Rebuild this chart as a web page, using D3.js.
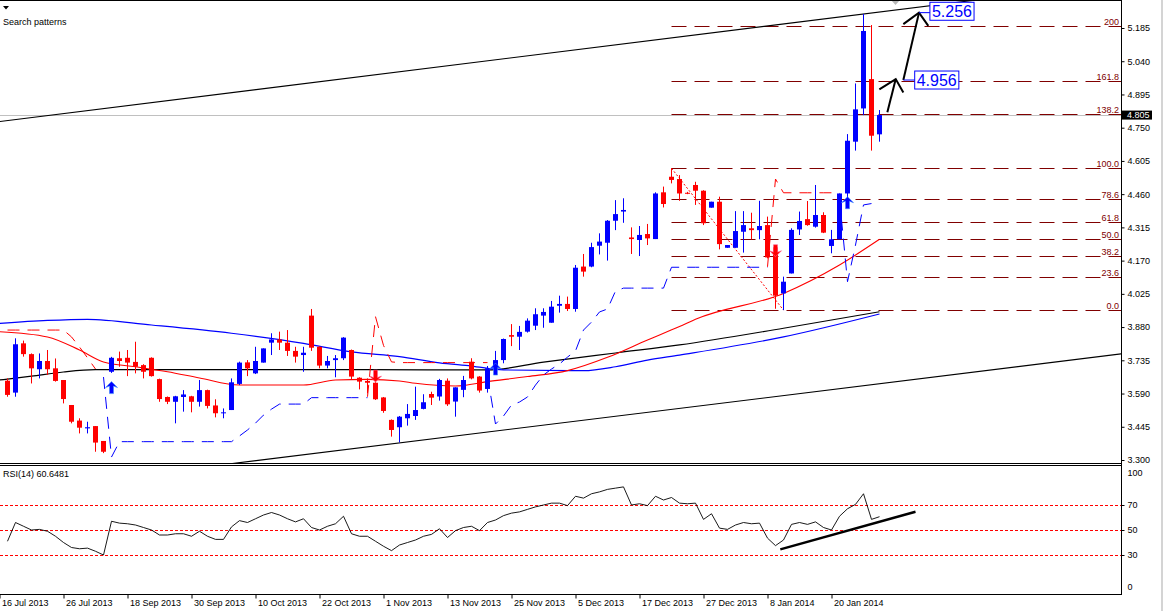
<!DOCTYPE html>
<html><head><meta charset="utf-8">
<script src="https://cdn.jsdelivr.net/npm/d3@7/dist/d3.min.js"></script>
<style>
body{margin:0;background:#fff}
svg{display:block}
text{font-family:"Liberation Sans",Arial,sans-serif;font-size:9px}
</style></head>
<body><svg id="c" width="1171" height="611"></svg>
<script>
// ---------- DATA ----------
const openP  = [3.646,3.594,3.809,3.762,3.696,3.732,3.700,3.649,3.540,3.472,3.438,3.448,3.383,3.685,3.744,3.746,3.728,3.714,3.746,3.653,3.575,3.554,3.575,3.578,3.554,3.605,3.538,3.504,3.518,3.632,3.726,3.678,3.725,3.812,3.826,3.812,3.776,3.758,3.930,3.794,3.712,3.736,3.744,3.780,3.659,3.645,3.637,3.573,3.475,3.443,3.482,3.492,3.523,3.588,3.577,3.646,3.555,3.606,3.729,3.664,3.610,3.693,3.736,3.845,3.838,3.860,3.886,3.930,3.899,3.973,3.981,3.959,4.144,4.144,4.235,4.248,4.344,4.384,4.271,4.260,4.286,4.264,4.468,4.536,4.526,4.466,4.500,4.475,4.401,4.427,4.226,4.226,4.296,4.311,4.303,4.325,4.228,4.027,4.114,4.306,4.351,4.318,4.369,4.234,4.263,4.463,4.689,4.834,4.962,4.721];
const highP  = [3.656,3.831,3.821,3.765,3.765,3.780,3.743,3.649,3.540,3.482,3.467,3.448,3.383,3.750,3.773,3.780,3.816,3.718,3.748,3.655,3.577,3.580,3.605,3.580,3.649,3.607,3.565,3.525,3.656,3.729,3.736,3.794,3.787,3.853,3.860,3.867,3.794,3.794,3.959,3.796,3.754,3.758,3.836,3.782,3.661,3.656,3.639,3.575,3.477,3.492,3.544,3.620,3.587,3.598,3.654,3.656,3.617,3.667,3.744,3.666,3.710,3.776,3.830,3.893,3.885,3.918,3.962,3.962,3.994,4.017,4.013,4.151,4.199,4.248,4.289,4.347,4.434,4.442,4.315,4.321,4.330,4.468,4.493,4.573,4.543,4.470,4.514,4.477,4.427,4.449,4.238,4.386,4.386,4.379,4.431,4.362,4.232,4.100,4.311,4.384,4.430,4.500,4.381,4.304,4.463,4.722,4.943,5.246,5.198,4.827];
const lowP   = [3.576,3.576,3.751,3.634,3.656,3.671,3.642,3.547,3.460,3.416,3.416,3.336,3.330,3.680,3.707,3.666,3.678,3.656,3.664,3.554,3.544,3.460,3.511,3.508,3.533,3.525,3.486,3.482,3.518,3.627,3.666,3.675,3.725,3.758,3.780,3.754,3.725,3.685,3.776,3.700,3.700,3.661,3.736,3.649,3.608,3.591,3.562,3.506,3.402,3.377,3.450,3.475,3.521,3.540,3.559,3.536,3.489,3.574,3.652,3.594,3.594,3.675,3.722,3.797,3.780,3.856,3.867,3.877,3.899,3.943,3.950,3.947,4.100,4.141,4.197,4.170,4.303,4.335,4.199,4.190,4.238,4.264,4.402,4.507,4.431,4.460,4.413,4.325,4.401,4.219,4.226,4.226,4.205,4.263,4.263,4.180,3.960,3.954,4.114,4.282,4.322,4.314,4.290,4.202,4.263,4.440,4.650,4.805,4.650,4.689];
const closeP = [3.584,3.805,3.762,3.700,3.732,3.696,3.645,3.566,3.467,3.441,3.443,3.376,3.336,3.746,3.732,3.725,3.707,3.685,3.666,3.566,3.554,3.578,3.586,3.554,3.605,3.536,3.504,3.508,3.639,3.725,3.700,3.732,3.787,3.826,3.812,3.776,3.751,3.768,3.790,3.712,3.732,3.744,3.834,3.664,3.642,3.637,3.565,3.514,3.431,3.489,3.501,3.518,3.552,3.572,3.649,3.543,3.617,3.649,3.656,3.603,3.700,3.736,3.828,3.838,3.859,3.908,3.936,3.946,3.969,3.981,3.959,4.139,4.122,4.229,4.253,4.344,4.373,4.391,4.264,4.282,4.267,4.463,4.417,4.522,4.463,4.465,4.475,4.333,4.427,4.242,4.238,4.299,4.325,4.303,4.321,4.184,4.017,4.078,4.304,4.343,4.325,4.369,4.292,4.263,4.463,4.693,4.830,5.172,4.715,4.805];

const rsiValues = [41,56,53,50,50.5,49,45,40,36,35,35.5,33,30,57,55.5,55,54,52,50,46,46,47,47,45,49,45,42.5,42.5,52.5,57.5,56,59,62,64,62,59,56.5,59,52,50,53,55,61,47,45,45,41,37,33.5,38,40,42,45,46.5,51,44,49.5,52,53,49.5,56,58,61.5,63.5,64.5,66.5,68.5,70,71.5,71.5,69.5,77,75.5,79,80.5,82.5,83.5,84.5,70,71,69.5,77,74,76,71.5,71,71.5,58.5,63,51.5,50.5,54,56,55,55.5,43.5,37.5,42,54.5,56,54.5,56.5,52,50,61,67,70.5,79,58.5,60.6481];

// moving averages: [bar, price] knots
const maBlack = [[-1,3.649],[3,3.666],[7,3.684],[11,3.694],[30,3.694],[45,3.694],[60,3.693],[67,3.727],[76,3.767],[84,3.802],[97,3.875],[109,3.947]];
const maBlue  = [[-1,3.896],[5,3.909],[10,3.914],[18,3.889],[28,3.853],[37,3.809],[43,3.772],[49,3.751],[54,3.724],[58,3.710],[62,3.693],[72,3.690],[76,3.707],[80,3.736],[84,3.758],[97,3.837],[109,3.937]];
const maRed   = [[-1,3.860],[5,3.837],[9,3.780],[12,3.728],[16,3.707],[20,3.685],[24,3.658],[29,3.627],[37,3.627],[41,3.649],[45,3.652],[49,3.645],[51,3.635],[56,3.623],[60,3.642],[65,3.664],[70,3.690],[75,3.748],[80,3.824],[84,3.882],[86,3.914],[97,4.027],[104,4.151],[109,4.263]];

// trailing-stop indicator buffers (null = empty)
const N = 110;
const trailUp = [null,null,null,null,null,null,null,null,null,null,null,null,3.662,3.313,3.380,3.380,3.380,3.380,3.380,3.380,3.380,3.380,3.380,3.380,3.380,3.380,3.380,3.380,3.380,3.405,3.431,3.461,3.496,3.522,3.544,3.544,3.544,3.544,3.572,3.572,3.572,3.572,3.572,3.572,3.572,3.572,null,null,null,null,null,null,null,null,null,null,null,null,null,null,3.666,3.457,3.492,3.540,3.553,3.575,3.627,3.671,3.697,3.719,3.749,3.776,3.867,3.902,3.946,3.959,4.037,4.050,4.050,4.050,4.050,4.050,4.050,4.141,4.141,4.141,4.141,4.141,4.141,4.141,4.141,4.141,4.141,4.141,4.141,4.141,null,null,null,null,null,null,null,null,4.440,4.078,4.238,4.413,4.419,null];
const trailDn = [3.867,3.867,3.867,3.867,3.867,3.867,3.867,3.867,3.837,3.793,3.746,3.697,null,null,null,null,null,null,null,null,null,null,null,null,null,null,null,null,null,null,null,null,null,null,null,null,null,null,null,null,null,null,null,null,null,3.576,3.925,3.800,3.728,3.725,3.725,3.725,3.725,3.725,3.725,3.725,3.725,3.725,3.725,3.725,3.725,null,null,null,null,null,null,null,null,null,null,null,null,null,null,null,null,null,null,null,null,null,null,null,null,null,null,null,null,null,null,null,null,null,null,4.143,4.526,4.466,4.466,4.466,4.466,4.466,4.466,4.466,4.466,null,null,null,null,null];

const upArrows = [[13,3.642],[61,3.723],[105,4.449]];
const dnArrows = [[46,3.640],[96,4.187]];

// channel trendlines [bar, price]
const channelUpper = [[0,4.781],[107,5.246]];
const channelLower = [[28.44,3.286],[139.19,3.763]];

// Fibonacci retracement
const fibLevels = [0,23.6,38.2,50,61.8,78.6,100,138.2,161.8,200];
const fibNames  = ["0.0","23.6","38.2","50.0","61.8","78.6","100.0","138.2","161.8","200"];
const fibHighAnchor = [83,4.573];
const fibLowAnchor  = [97,3.954];

// drawn arrows (polylines) [bar, price]
const drawnArrow1 = [[109.98,4.817],[111.03,4.962]];
const drawnHead1  = [[108.98,4.917],[111.03,4.962],[111.98,4.904]];
const drawnArrow2 = [[111.98,4.958],[113.94,5.252]];
const drawnHead2  = [[111.98,5.202],[113.94,5.252],[115.1,5.194]];
const targetLabels = [{text:"4.956",bar:113.4,price:4.958,from:[111.98,4.958]},{text:"5.256",bar:115.3,price:5.258,from:[113.94,5.252]}];

const priceTicks = [3.300,3.445,3.590,3.735,3.880,4.025,4.170,4.315,4.460,4.605,4.750,4.895,5.040,5.185];
const bidPrice = 4.805;
const rsiTicks = [0,30,50,70,100];
const rsiLevels = [30,50,70];
const rsiTrend = [[96.6,34.5],[113.5,64.6]];
const dateTickBars = [-1,7,15,23,31,39,47,55,63,71,79,87,95,103];
const dateLabels = ["16 Jul 2013","26 Jul 2013","18 Sep 2013","30 Sep 2013","10 Oct 2013","22 Oct 2013","1 Nov 2013","13 Nov 2013","25 Nov 2013","5 Dec 2013","17 Dec 2013","27 Dec 2013","8 Jan 2014","20 Jan 2014"];

// ---------- LAYOUT ----------
const svg = d3.select("#c");
const RIGHT = 1121, MAIN_TOP = 1, MAIN_BOT = 463, RSI_TOP = 465.5, RSI_BOT = 594;
const x = d3.scaleLinear().domain([0,109]).range([7.5,879.5]);
const y = d3.scaleLinear().domain([3.300,5.185]).range([460,28]);
const yr = d3.scaleLinear().domain([0,100]).range([592.5,467.5]);

const defs = svg.append("defs");
defs.append("clipPath").attr("id","clipMain").append("rect").attr("x",0).attr("y",MAIN_TOP).attr("width",RIGHT).attr("height",MAIN_BOT-MAIN_TOP);
defs.append("clipPath").attr("id","clipRsi").append("rect").attr("x",0).attr("y",RSI_TOP).attr("width",RIGHT).attr("height",RSI_BOT-RSI_TOP);

// window frame line on the far right
svg.append("rect").attr("x",1161).attr("y",0).attr("width",2).attr("height",611).attr("fill","#d4d4d4");

const main = svg.append("g").attr("clip-path","url(#clipMain)");

// bid line
main.append("line").attr("x1",0).attr("x2",RIGHT).attr("y1",Math.round(y(bidPrice))+0.5).attr("y2",Math.round(y(bidPrice))+0.5).attr("stroke","#c0c0c0");

// Fibonacci
const fibP = l => fibLowAnchor[1] + (fibHighAnchor[1]-fibLowAnchor[1])*l/100;
fibLevels.forEach((l,k)=>{
  const yy = Math.round(y(fibP(l)))+0.5;
  main.append("line").attr("x1",x(fibHighAnchor[0])).attr("x2",RIGHT).attr("y1",yy).attr("y2",yy)
    .attr("stroke","#800000").attr("stroke-dasharray","15,8");
  main.append("text").attr("x",1119).attr("y",yy-2).attr("text-anchor","end").attr("fill","#800000").text(fibNames[k]);
});
main.append("line").attr("x1",x(fibHighAnchor[0])).attr("y1",y(fibHighAnchor[1])).attr("x2",x(fibLowAnchor[0])).attr("y2",y(fibLowAnchor[1]))
  .attr("stroke","#ff0000").attr("stroke-dasharray","2,2");

// channel lines
const lineXY = d3.line().x(d=>x(d[0])).y(d=>y(d[1]));
function extend(pts, b0, b1){
  const [p,q]=pts, s=(q[1]-p[1])/(q[0]-p[0]);
  return [[b0,p[1]+s*(b0-p[0])],[b1,p[1]+s*(b1-p[0])]];
}
main.append("path").attr("d",lineXY(extend(channelUpper,-2,140))).attr("fill","none").attr("stroke","#000").attr("stroke-width",1.1);
main.append("path").attr("d",lineXY(extend(channelLower,10,140))).attr("fill","none").attr("stroke","#000").attr("stroke-width",1.1);

// moving averages
const maLine = d3.line().x(d=>x(d[0])).y(d=>y(d[1])).curve(d3.curveMonotoneX);
main.append("path").attr("d",maLine(maBlack)).attr("fill","none").attr("stroke","#000").attr("stroke-width",1.2);
main.append("path").attr("d",maLine(maBlue)).attr("fill","none").attr("stroke","#0000ff").attr("stroke-width",1.2);
main.append("path").attr("d",maLine(maRed)).attr("fill","none").attr("stroke","#ff0000").attr("stroke-width",1.1);

// trailing stop
const trailLine = d3.line().defined(d=>d[1]!=null).x(d=>x(d[0])).y(d=>y(d[1]));
main.append("path").attr("d",trailLine(trailUp.map((v,i)=>[i,v]))).attr("fill","none").attr("stroke","#0000ff").attr("stroke-dasharray","12,8");
main.append("path").attr("d",trailLine(trailDn.map((v,i)=>[i,v]))).attr("fill","none").attr("stroke","#ff0000").attr("stroke-dasharray","12,8");

// candles
const bars = d3.range(N);
const cg = main.append("g");
bars.forEach(i=>{
  const up = closeP[i] >= openP[i];
  const col = up ? "#0000ff" : "#ff0000";
  const cx = x(i);
  cg.append("line").attr("x1",cx).attr("x2",cx).attr("y1",y(highP[i])).attr("y2",y(lowP[i])).attr("stroke",col);
  const t = y(Math.max(openP[i],closeP[i])), b = y(Math.min(openP[i],closeP[i]));
  cg.append("rect").attr("x",cx-2.5).attr("y",t).attr("width",5).attr("height",Math.max(1,b-t)).attr("fill",col);
});

// signal arrows
const arrowUpPath = "M0,0 L6,6 L2,4.5 L2,12 L-2,12 L-2,4.5 L-6,6 Z";
upArrows.forEach(([b,p])=>{
  main.append("path").attr("d",arrowUpPath).attr("transform",`translate(${x(b)},${y(p)})`).attr("fill","#0000ff").attr("stroke","#3f8fff").attr("stroke-width",0.6);
});
dnArrows.forEach(([b,p])=>{
  main.append("path").attr("d",arrowUpPath).attr("transform",`translate(${x(b)},${y(p)}) scale(1,-1)`).attr("fill","#ff0000").attr("stroke","#ff6090").attr("stroke-width",0.6);
});

// drawn target arrows
[drawnArrow1,drawnHead1,drawnArrow2,drawnHead2].forEach(pts=>{
  main.append("path").attr("d",lineXY(pts)).attr("fill","none").attr("stroke","#000").attr("stroke-width",2);
});
targetLabels.forEach(t=>{
  const g = main.append("g");
  const tx = x(t.bar), ty = y(t.price);
  const txt = g.append("text").attr("x",tx+2).attr("y",ty).attr("dy","0.36em").attr("fill","#0000ff")
    .style("font-size","16px").text(t.text);
  const bb = txt.node().getBBox();
  g.insert("rect","text").attr("x",tx).attr("y",ty-9).attr("width",bb.width+4).attr("height",18)
    .attr("fill","#fff").attr("stroke","#0000ff");
  g.append("line").attr("x1",x(t.from[0])).attr("y1",y(t.from[1])).attr("x2",tx).attr("y2",y(t.from[1])).attr("stroke","#0000ff");
});

// top markers
svg.append("path").attr("d","M3,6 L9,6 L6,9.5 Z").attr("fill","#000");
svg.append("text").attr("x",3).attr("y",25).text("Search patterns");
svg.append("path").attr("d","M891,0 L900,0 L895.5,5 Z").attr("fill","#b8b8b8");

// frame lines
svg.append("line").attr("x1",0).attr("x2",RIGHT).attr("y1",0.5).attr("y2",0.5).attr("stroke","#000");
svg.append("line").attr("x1",0).attr("x2",RIGHT).attr("y1",MAIN_BOT+0.5).attr("y2",MAIN_BOT+0.5).attr("stroke","#000");
svg.append("line").attr("x1",0).attr("x2",RIGHT).attr("y1",RSI_TOP).attr("y2",RSI_TOP).attr("stroke","#000");
svg.append("line").attr("x1",0).attr("x2",RIGHT+1).attr("y1",RSI_BOT+0.5).attr("y2",RSI_BOT+0.5).attr("stroke","#000");
svg.append("line").attr("x1",RIGHT+0.5).attr("x2",RIGHT+0.5).attr("y1",0).attr("y2",RSI_BOT+1).attr("stroke","#000");

// price axis
const pAxis = svg.append("g").attr("transform",`translate(${RIGHT+0.5},0)`)
  .call(d3.axisRight(y).tickValues(priceTicks).tickSize(3).tickPadding(3).tickFormat(d3.format(".3f")));
pAxis.select(".domain").remove();
pAxis.selectAll("text").style("font-family","Liberation Sans, Arial, sans-serif").style("font-size","9px").attr("fill","#000");
// bid tag
const by = y(bidPrice);
svg.append("rect").attr("x",RIGHT+1).attr("y",by-4.5).attr("width",30).attr("height",9).attr("fill","#000");
svg.append("text").attr("x",RIGHT+6).attr("y",by).attr("dy","0.34em").attr("fill","#fff").text(bidPrice.toFixed(3));

// ---------- RSI ----------
const rg = svg.append("g").attr("clip-path","url(#clipRsi)");
rsiLevels.forEach(l=>{
  rg.append("line").attr("x1",0).attr("x2",RIGHT).attr("y1",Math.round(yr(l))+0.5).attr("y2",Math.round(yr(l))+0.5)
    .attr("stroke","#ff0000").attr("stroke-dasharray","3,2");
});
rg.append("path").attr("d",d3.line().x((d,i)=>x(i)).y(d=>yr(d))(rsiValues)).attr("fill","none").attr("stroke","#000").attr("stroke-width",0.9);
rg.append("path").attr("d",d3.line().x(d=>x(d[0])).y(d=>yr(d[1]))(rsiTrend)).attr("fill","none").attr("stroke","#000").attr("stroke-width",2.5);
svg.append("text").attr("x",3).attr("y",477).text("RSI(14) " + rsiValues[N-1].toFixed(4));
const rAxis = svg.append("g").attr("transform",`translate(${RIGHT+0.5},0)`)
  .call(d3.axisRight(yr).tickValues(rsiTicks).tickSize(3).tickPadding(3));
rAxis.select(".domain").remove();
rAxis.selectAll("text").style("font-family","Liberation Sans, Arial, sans-serif").style("font-size","9px").attr("fill","#000")
  .attr("dy",d=> d===100 ? "0.9em" : d===0 ? "-0.3em" : "0.32em");
rAxis.selectAll("line").filter(d=>d===100||d===0).remove();

// ---------- TIME AXIS ----------
const tAxis = svg.append("g").attr("transform",`translate(0,${RSI_BOT+0.5})`)
  .call(d3.axisBottom(x).tickValues(dateTickBars).tickSize(4).tickFormat((d,i)=>dateLabels[i]));
tAxis.select(".domain").remove();
tAxis.selectAll("text").style("font-family","Liberation Sans, Arial, sans-serif").style("font-size","9px").attr("fill","#000")
  .attr("text-anchor","start").attr("dx","2").attr("y",5);
</script></body></html>
